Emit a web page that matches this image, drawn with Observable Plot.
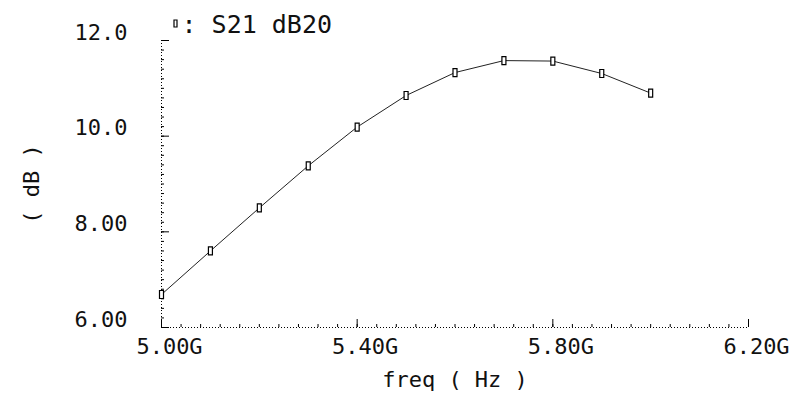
<!DOCTYPE html>
<html>
<head>
<meta charset="utf-8">
<script src="https://cdn.jsdelivr.net/npm/d3@7"></script>
<script src="https://cdn.jsdelivr.net/npm/@observablehq/plot@0.6"></script>
<style>
  html, body { margin: 0; padding: 0; background: #fff; }
</style>
</head>
<body>
<div id="chart"></div>
<script>
// Data
const freqGHz = [5.0, 5.1, 5.2, 5.3, 5.4, 5.5, 5.6, 5.7, 5.8, 5.9, 6.0];
const s21dB   = [6.69, 7.60, 8.50, 9.38, 10.19, 10.85, 11.33, 11.58, 11.57, 11.31, 10.90];

const xTicks = [5.0, 5.4, 5.8, 6.2];
const xTickLabels = ["5.00G", "5.40G", "5.80G", "6.20G"];
const yTicks = [6, 8, 10, 12];
const yTickLabels = ["6.00", "8.00", "10.0", "12.0"];
const seriesName = "S21 dB20";
const xTitle = "freq ( Hz )";
const yTitle = "( dB )";

const xMinor = d3.range(0, 31).map(i => 5.0 + i * 0.04);
const yMinor = d3.range(0, 31).map(i => 6 + i * 0.2);

const data = freqGHz.map((f, i) => ({f, v: s21dB[i]}));

const W = 796, H = 397, mL = 161, mR = 48, mT = 40, mB = 70;
const fw = W - mL - mR, fh = H - mT - mB;

const boxSymbol = {
  draw(ctx) {
    ctx.moveTo(-2, -4); ctx.lineTo(2, -4); ctx.lineTo(2, 4); ctx.lineTo(-2, 4); ctx.closePath();
  }
};
const legendSymbol = {
  draw(ctx) {
    ctx.moveTo(-1.5, -3.5); ctx.lineTo(1.5, -3.5); ctx.lineTo(1.5, 3.5); ctx.lineTo(-1.5, 3.5); ctx.closePath();
  }
};

const font = "DejaVu Sans Mono";
const ink = "#111";

const chart = Plot.plot({
  width: W, height: H,
  marginLeft: mL, marginRight: mR, marginTop: mT, marginBottom: mB,
  style: {fontFamily: font, background: "#fff", color: "#000"},
  x: {domain: [5.0, 6.2], axis: null},
  y: {domain: [6, 12], axis: null},
  marks: [
    // dotted axis lines
    Plot.ruleX([5.0], {stroke: "#000", strokeWidth: 1, strokeDasharray: "1,2"}),
    Plot.ruleY([6], {stroke: "#000", strokeWidth: 1, strokeDasharray: "1,2"}),
    // minor ticks
    Plot.tickX(xMinor, {x: d => d, insetTop: fh - 3, stroke: "#000", strokeWidth: 1}),
    Plot.tickY(yMinor, {y: d => d, insetRight: fw - 3, stroke: "#000", strokeWidth: 1}),
    // major ticks (inward)
    Plot.tickX(xTicks, {x: d => d, insetTop: fh - 8, stroke: "#000", strokeWidth: 1}),
    Plot.tickY(yTicks, {y: d => d, insetRight: fw - 8, stroke: "#000", strokeWidth: 1}),
    // tick labels
    Plot.text(yTicks, {y: d => d, text: (d, i) => yTickLabels[i], frameAnchor: "left",
      textAnchor: "end", lineAnchor: "bottom", dx: -34, dy: -1, fontSize: 22, fill: ink}),
    Plot.text(xTicks, {x: d => d, text: (d, i) => xTickLabels[i], frameAnchor: "bottom",
      textAnchor: "middle", lineAnchor: "top", dx: 8, dy: 11, fontSize: 22, fill: ink}),
    // axis titles
    Plot.text([xTitle], {text: d => d, frameAnchor: "bottom", textAnchor: "middle", lineAnchor: "bottom",
      dy: 59, fontSize: 22, fill: ink}),
    Plot.text([yTitle], {text: d => d, frameAnchor: "left", textAnchor: "middle", rotate: -90,
      lineAnchor: "bottom", dx: -123, fontSize: 22, fill: ink}),
    // series
    Plot.line(data, {x: "f", y: "v", stroke: "#222", strokeWidth: 1}),
    Plot.dot(data, {x: "f", y: "v", symbol: boxSymbol, fill: "#fff", stroke: "#000", strokeWidth: 1.2}),
    // legend
    Plot.dot([seriesName], {frameAnchor: "top-left", dx: 14, dy: -17, symbol: legendSymbol,
      fill: "#fff", stroke: "#000", strokeWidth: 1.2}),
    Plot.text([seriesName], {text: d => ": " + d, frameAnchor: "top-left", textAnchor: "start",
      lineAnchor: "bottom", dx: 20, dy: -8, fontSize: 25, fill: ink})
  ]
});
document.getElementById("chart").appendChild(chart);
</script>
</body>
</html>
